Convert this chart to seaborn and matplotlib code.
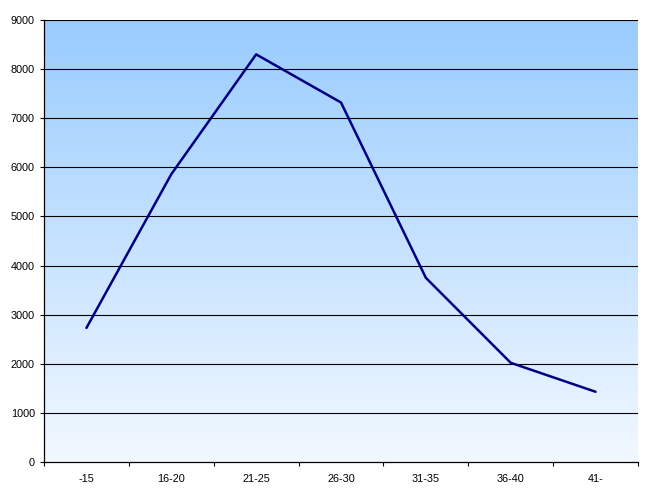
import numpy as np
import pandas as pd
import matplotlib
matplotlib.use("Agg")
import matplotlib.pyplot as plt
import seaborn as sns
from matplotlib.colors import LinearSegmentedColormap

categories = ["-15", "16-20", "21-25", "26-30", "31-35", "36-40", "41-"]
values = [2730, 5860, 8300, 7320, 3750, 2020, 1430]
yticks = [0, 1000, 2000, 3000, 4000, 5000, 6000, 7000, 8000, 9000]

sns.set_theme(style="white")
plt.rcParams['font.family'] = ['Liberation Sans', 'DejaVu Sans']

df = pd.DataFrame({"age": categories, "count": values})

fig = plt.figure(figsize=(6.52, 4.91), dpi=100)
ax = fig.add_axes([44/652, (491-462)/491, (638-44)/652, (462-20)/491])

# gradient background
cmap = LinearSegmentedColormap.from_list("bg", [(242/255, 248/255, 1.0), (153/255, 204/255, 1.0)])
grad = np.linspace(0, 1, 256).reshape(-1, 1)
ax.imshow(grad, extent=(-0.5, 6.5, 0, 9000), origin="lower", aspect="auto", cmap=cmap, zorder=0)

for y in yticks[1:]:
    ax.axhline(y, color="black", lw=0.8, zorder=1)

sns.lineplot(data=df, x="age", y="count", ax=ax, color="#000080", lw=1.8, sort=False, zorder=3)

ax.set_xlim(-0.5, 6.5)
ax.set_ylim(0, 9000)
ax.set_yticks(yticks)
ax.set_yticklabels([str(v) for v in yticks])
ax.set_xticks(range(len(categories)))
ax.set_xticklabels(categories)
ax.set_xticks(np.arange(-0.5, 7.0, 1.0), minor=True)
ax.set_xlabel("")
ax.set_ylabel("")

for s in ["top", "right"]:
    ax.spines[s].set_visible(False)
for s in ["left", "bottom"]:
    ax.spines[s].set_color("black")
    ax.spines[s].set_linewidth(0.9)

ax.tick_params(axis="y", which="major", left=True, length=3, width=0.8, color="black", pad=3.5, labelsize=7.8, labelcolor="black")
ax.tick_params(axis="x", which="major", bottom=False, length=0, pad=8.5, labelsize=7.8, labelcolor="black")
ax.tick_params(axis="x", which="minor", bottom=True, length=3, width=0.8, color="black")

fig.savefig("out.png", dpi=100, facecolor="white")
